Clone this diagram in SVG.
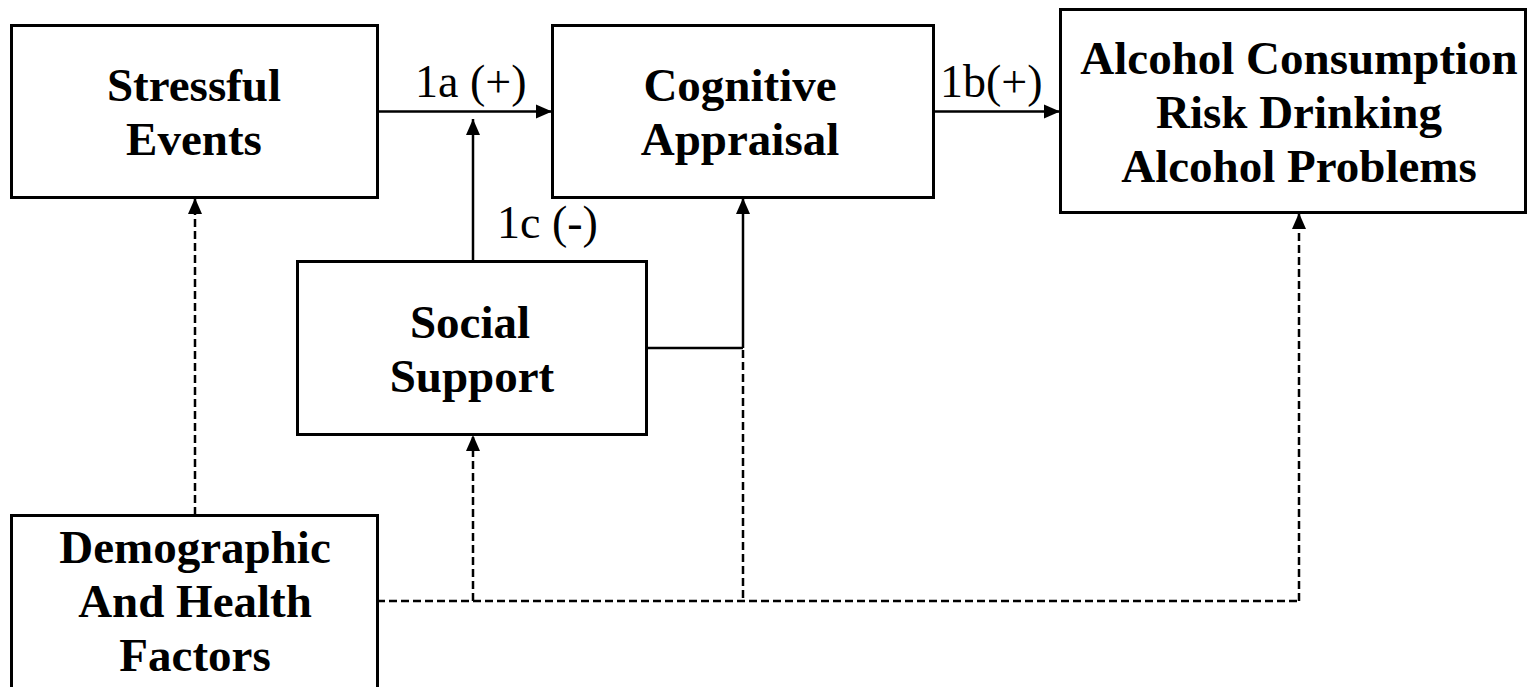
<svg xmlns="http://www.w3.org/2000/svg" width="1528" height="687" viewBox="0 0 1528 687">
  <style>
    .box { fill: #fff; stroke: #000; stroke-width: 3; }
    .title { font-family: "Liberation Serif", "Times New Roman", serif; font-weight: bold; font-size: 47px; text-anchor: middle; fill: #000; }
    .lbl { font-family: "Liberation Serif", "Times New Roman", serif; font-size: 46px; fill: #000; }
    .solid { fill: none; stroke: #000; stroke-width: 2.5; }
    .dash { fill: none; stroke: #000; stroke-width: 2.5; stroke-dasharray: 8 4; }
  </style>
  <defs>
    <marker id="arrow" viewBox="0 0 16 16" refX="16" refY="8" markerWidth="16" markerHeight="16" markerUnits="userSpaceOnUse" orient="auto">
      <path d="M0,1 L16,8 L0,15 Z" fill="#000"/>
    </marker>
  </defs>
  <rect width="1528" height="687" fill="#fff"/>

  <!-- connectors -->
  <g id="connectors">
    <line class="solid" x1="377" y1="111.5" x2="552" y2="111.5" marker-end="url(#arrow)"/>
    <line class="solid" x1="473" y1="261" x2="473" y2="119" marker-end="url(#arrow)"/>
    <line class="solid" x1="934" y1="111.5" x2="1060" y2="111.5" marker-end="url(#arrow)"/>
    <polyline class="solid" points="647,348 743,348"/>
    <line class="solid" x1="743" y1="348" x2="743" y2="198" marker-end="url(#arrow)"/>
    <line class="dash" x1="743" y1="350" x2="743" y2="601"/>
    <line class="dash" x1="377" y1="601" x2="1299" y2="601"/>
    <line class="dash" x1="473" y1="601" x2="473" y2="435" marker-end="url(#arrow)"/>
    <line class="dash" x1="1299" y1="601" x2="1299" y2="213" marker-end="url(#arrow)"/>
    <line class="dash" x1="195" y1="515" x2="195" y2="198" marker-end="url(#arrow)"/>
    <text class="lbl" x="415" y="97">1a (+)</text>
    <text class="lbl" x="940" y="97">1b(+)</text>
    <text class="lbl" x="497" y="238">1c (-)</text>
  </g>

  <g id="stressful-events">
    <rect class="box" x="11.5" y="25.5" width="366" height="172"/>
    <text class="title" x="194" y="101">Stressful</text>
    <text class="title" x="194" y="155">Events</text>
  </g>

  <g id="cognitive-appraisal">
    <rect class="box" x="552.5" y="25.5" width="381" height="172"/>
    <text class="title" x="740" y="101">Cognitive</text>
    <text class="title" x="740" y="155">Appraisal</text>
  </g>

  <g id="alcohol-outcomes">
    <rect class="box" x="1060.5" y="9.5" width="465" height="203"/>
    <text class="title" x="1299" y="74">Alcohol Consumption</text>
    <text class="title" x="1299" y="128">Risk Drinking</text>
    <text class="title" x="1299" y="182">Alcohol Problems</text>
  </g>

  <g id="social-support">
    <rect class="box" x="297.5" y="261.5" width="349" height="173"/>
    <text class="title" x="470" y="338">Social</text>
    <text class="title" x="472" y="392">Support</text>
  </g>

  <g id="demographic-health">
    <rect class="box" x="11.5" y="515.5" width="366" height="200"/>
    <text class="title" x="195" y="563">Demographic</text>
    <text class="title" x="195" y="617">And Health</text>
    <text class="title" x="195" y="671">Factors</text>
  </g>
</svg>
